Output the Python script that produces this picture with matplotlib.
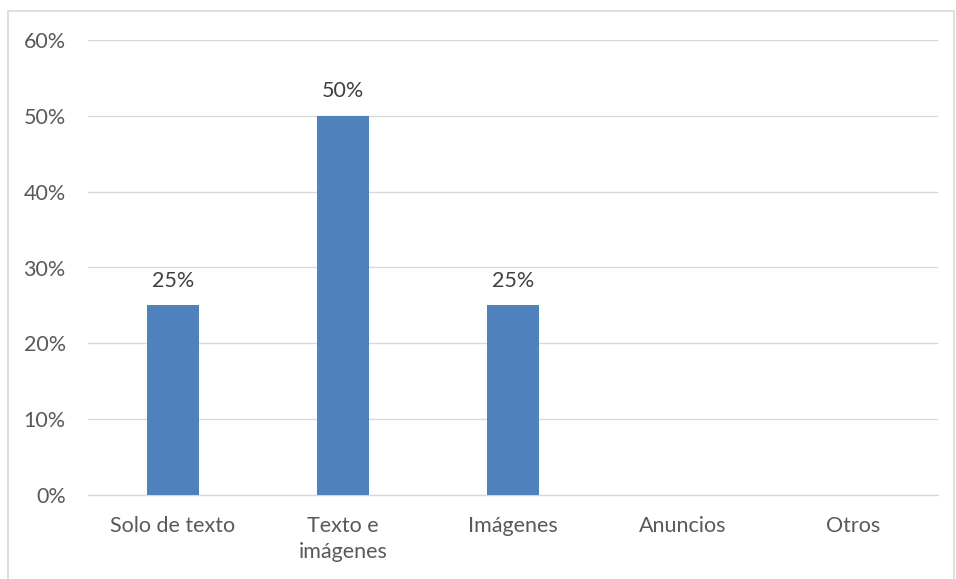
import matplotlib
matplotlib.use("Agg")
import matplotlib.pyplot as plt
from matplotlib.patches import Rectangle
from matplotlib.ticker import FuncFormatter, MultipleLocator

categories = ["Solo de texto", "Texto e\nimágenes", "Imágenes", "Anuncios", "Otros"]
values = [0.25, 0.50, 0.25, 0.0, 0.0]
labels = ["25%", "50%", "25%", "", ""]

plt.rcParams['font.family'] = ['Lato', 'DejaVu Sans']
txt = '#595959'
fs = 15.5

fig = plt.figure(figsize=(9.56, 5.79), dpi=100)
fig.patches.append(Rectangle((8/956, -0.05), (954-8)/956, 1.05 - 11/579,
                             transform=fig.transFigure, fill=False,
                             edgecolor='#D9D9D9', linewidth=1.2))
ax = fig.add_axes([88/956, 1-495/579, (938-88)/956, (495-40)/579])

x = range(len(categories))
bars = ax.bar(x, values, width=0.31, color='#4F81BD', zorder=3)
for b, v, l in zip(bars, values, labels):
    if l:
        ax.text(b.get_x() + b.get_width()/2, v + 0.019, l, ha='center', va='bottom',
                fontsize=fs, color='#404040')

ax.set_xlim(-0.5, len(categories) - 0.5)
ax.set_ylim(0, 0.6)
ax.yaxis.set_major_locator(MultipleLocator(0.1))
ax.yaxis.set_major_formatter(FuncFormatter(lambda v, p: f"{v*100:.0f}%"))
ax.set_xticks(list(x))
ax.set_xticklabels(categories, fontsize=fs, color=txt, linespacing=1.4)
ax.tick_params(axis='y', labelsize=fs, labelcolor=txt, length=0, pad=16)
ax.tick_params(axis='x', length=0, pad=15)
ax.grid(axis='y', color='#D9D9D9', linewidth=1, zorder=0)
for s in ['top', 'right', 'left']:
    ax.spines[s].set_visible(False)
ax.spines['bottom'].set_color('#D9D9D9')
ax.spines['bottom'].set_linewidth(1)

fig.savefig("out.png", dpi=100)
